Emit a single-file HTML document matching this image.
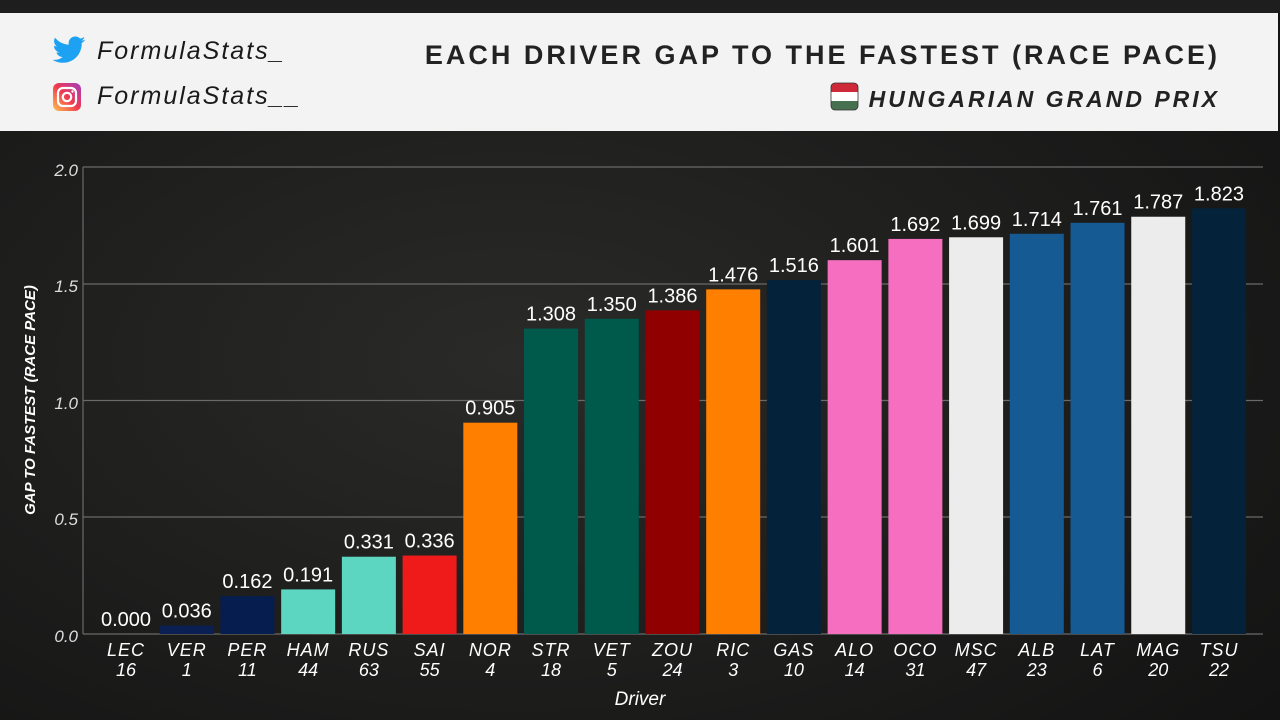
<!DOCTYPE html>
<html><head><meta charset="utf-8"><style>
html,body{margin:0;padding:0;width:1280px;height:720px;overflow:hidden;background:#161616}
svg{display:block}
text{font-family:"Liberation Sans",sans-serif}
</style></head><body>
<svg width="1280" height="720" viewBox="0 0 1280 720" xmlns="http://www.w3.org/2000/svg">
<defs>
<radialGradient id="bg" cx="0.4" cy="0.5" r="0.8">
<stop offset="0" stop-color="#2a2a28"/><stop offset="1" stop-color="#121212"/>
</radialGradient>
<linearGradient id="ig" x1="0" y1="1" x2="1" y2="0">
<stop offset="0" stop-color="#fdc44f"/><stop offset="0.5" stop-color="#f0394f"/><stop offset="1" stop-color="#a33cc1"/>
</linearGradient>
</defs>
<rect width="1280" height="720" fill="url(#bg)"/>
<rect x="0" y="0" width="1280" height="13" fill="#1e1e1e"/>
<rect x="0" y="13" width="1278" height="118" fill="#f3f3f3"/>
<g transform="translate(52,32) scale(0.95)" fill="#1da1f2">
<path d="M35 8c-1.3.6-2.6 1-4 1.1 1.5-.9 2.6-2.3 3.1-3.9-1.4.8-2.9 1.4-4.5 1.7C28.3 5.5 26.5 4.7 24.5 4.700c-3.9 0-7 3.1-7 7 0 .5.1 1.1.2 1.6C11.8 13 6.7 10.2 3.2 6c-.6 1-1 2.2-1 3.5 0 2.4 1.2 4.6 3.1 5.8-1.1 0-2.2-.4-3.2-.9v.1c0 3.4 2.4 6.200 5.6 6.9-.6.2-1.2.2-1.8.2-.4 0-.9 0-1.3-.1.9 2.8 3.5 4.8 6.5 4.9-2.4 1.9-5.4 3-8.7 3-.6 0-1.1 0-1.7-.1 3.1 2 6.8 3.1 10.7 3.1 12.9 0 19.9-10.7 19.9-19.9v-.9C32.9 10.6 34.1 9.4 35 8z"/>
</g>
<text x="97" y="59" font-size="25" font-style="italic" fill="#1a1a1a" letter-spacing="2">FormulaStats_</text>
<rect x="53" y="83" width="28" height="28" rx="6" fill="url(#ig)"/>
<rect x="58" y="88" width="18" height="18" rx="5" fill="none" stroke="#fff" stroke-width="2.2"/>
<circle cx="67" cy="97" r="4.2" fill="none" stroke="#fff" stroke-width="2.2"/>
<circle cx="72.5" cy="91.5" r="1.2" fill="#fff"/>
<text x="97" y="104" font-size="25" font-style="italic" fill="#1a1a1a" letter-spacing="2">FormulaStats__</text>
<text x="1220" y="64" font-size="27" font-weight="bold" fill="#222" text-anchor="end" letter-spacing="3">EACH DRIVER GAP TO THE FASTEST (RACE PACE)</text>
<rect x="831" y="83" width="27" height="27" rx="4" fill="#477050"/>
<rect x="831" y="83" width="27" height="18" rx="4" fill="#ce2939"/>
<rect x="831" y="92" width="27" height="9" fill="#ffffff"/>
<rect x="831" y="83" width="27" height="27" rx="4" fill="none" stroke="#333" stroke-width="0.8"/>
<text x="1220" y="107" font-size="23" font-weight="bold" font-style="italic" fill="#222" text-anchor="end" letter-spacing="3">HUNGARIAN GRAND PRIX</text>
<g stroke="#6a6a6a" stroke-width="1.2">
<line x1="83" y1="167" x2="1263" y2="167"/>
<line x1="83" y1="284" x2="1263" y2="284"/>
<line x1="83" y1="400.5" x2="1263" y2="400.5"/>
<line x1="83" y1="517" x2="1263" y2="517"/>
<line x1="83" y1="167" x2="83" y2="634"/>
<line x1="83" y1="634" x2="1263" y2="634"/>
</g>
<g font-size="17" font-style="italic" fill="#ddd" text-anchor="end">
<text x="78" y="176">2.0</text><text x="78" y="292">1.5</text><text x="78" y="409">1.0</text><text x="78" y="525">0.5</text><text x="78" y="642">0.0</text>
</g>
<text transform="translate(35,400) rotate(-90)" font-size="15" font-weight="bold" font-style="italic" fill="#fff" text-anchor="middle">GAP TO FASTEST (RACE PACE)</text>
<text x="640" y="705" font-size="19" font-style="italic" fill="#fff" text-anchor="middle">Driver</text>
<g id="bars"></g>
</svg>
<script>
var d=[["LEC","16",0,"#c00"],["VER","1",0.036,"#0a1f52"],["PER","11",0.162,"#061d4f"],["HAM","44",0.191,"#5cd6c0"],["RUS","63",0.331,"#5cd6c0"],["SAI","55",0.336,"#ef1a1a"],["NOR","4",0.905,"#ff8000"],["STR","18",1.308,"#005a4c"],["VET","5",1.350,"#005a4c"],["ZOU","24",1.386,"#900000"],["RIC","3",1.476,"#ff8000"],["GAS","10",1.516,"#04223a"],["ALO","14",1.601,"#f56ec0"],["OCO","31",1.692,"#f56ec0"],["MSC","47",1.699,"#ececec"],["ALB","23",1.714,"#155a93"],["LAT","6",1.761,"#155a93"],["MAG","20",1.787,"#ececec"],["TSU","22",1.823,"#04223a"]];
var g=document.getElementById("bars"),h="";
d.forEach(function(r,i){var cx=126+i*60.72,top=634-r[2]*233.5;
h+='<rect x="'+(cx-27)+'" y="'+top+'" width="54" height="'+(634-top)+'" fill="'+r[3]+'"/>';
h+='<text x="'+cx+'" y="'+(top-8)+'" font-size="20" fill="#fff" text-anchor="middle">'+r[2].toFixed(3)+'</text>';
h+='<text x="'+cx+'" y="656" font-size="18" font-style="italic" fill="#fff" text-anchor="middle" letter-spacing="1">'+r[0]+'</text>';
h+='<text x="'+cx+'" y="676" font-size="18" font-style="italic" fill="#fff" text-anchor="middle">'+r[1]+'</text>';});
g.innerHTML=h;
</script>
</body></html>
